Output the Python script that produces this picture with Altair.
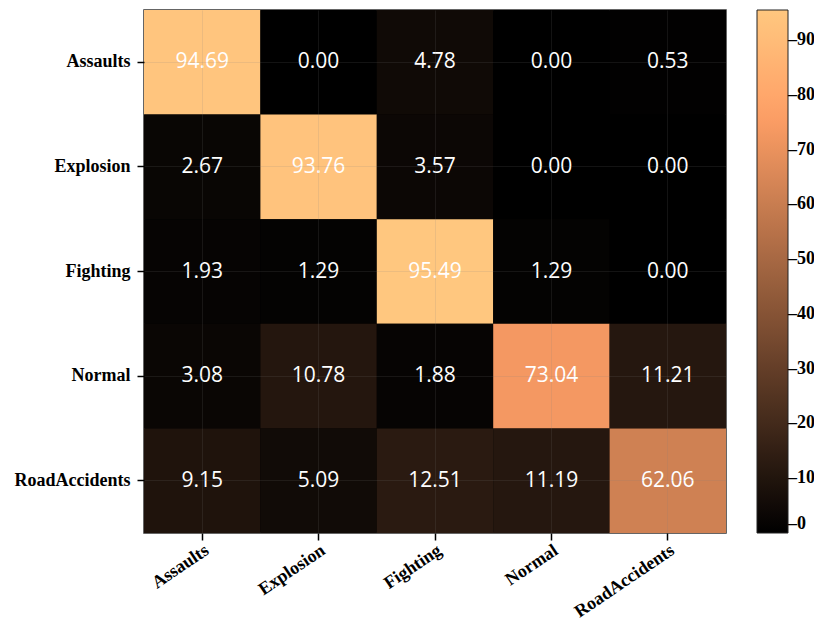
import altair as alt
import pandas as pd

# Class names (rows = true class, columns = predicted class)
classes = ["Assaults", "Explosion", "Fighting", "Normal", "RoadAccidents"]

# Confusion matrix rows, in percent
row_assaults = [94.69, 0.00, 4.78, 0.00, 0.53]
row_explosion = [2.67, 93.76, 3.57, 0.00, 0.00]
row_fighting = [1.93, 1.29, 95.49, 1.29, 0.00]
row_normal = [3.08, 10.78, 1.88, 73.04, 11.21]
row_road = [9.15, 5.09, 12.51, 11.19, 62.06]
rows = [row_assaults, row_explosion, row_fighting, row_normal, row_road]

# Colour bar tick values
bar_ticks = [0, 10, 20, 30, 40, 50, 60, 70, 80, 90]

records = []
for i, actual in enumerate(classes):
    for j, predicted in enumerate(classes):
        v = rows[i][j]
        records.append({"actual": actual, "predicted": predicted,
                        "value": v, "label": f"{v:.2f}"})
df = pd.DataFrame(records)

# matplotlib "copper" colormap: red saturates at 80 % of the range
vmax = max(max(r) for r in rows)
copper = alt.Scale(domain=[0, 0.8 * vmax, vmax],
                   range=["#000000", "#ff9f66", "#ffc77f"],
                   interpolate="rgb")

serif_bold = dict(labelFont="Liberation Serif", labelFontWeight="bold",
                  labelColor="black")

x_axis = alt.Axis(labelAngle=326, labelAlign="right", labelBaseline="top",
                  labelFontSize=18, labelPadding=1, tickSize=7,
                  tickColor="black", tickWidth=1.5, domain=False,
                  grid=True, gridColor="#808080", gridOpacity=0.15,
                  tickBand="center", zindex=1, **serif_bold)
y_axis = alt.Axis(labelFontSize=18, labelPadding=7, tickSize=7,
                  tickColor="black", tickWidth=1.5, domain=False,
                  grid=True, gridColor="#808080", gridOpacity=0.15,
                  tickBand="center", zindex=1, **serif_bold)

base = alt.Chart(df).encode(
    x=alt.X("predicted:N", sort=classes, title=None, axis=x_axis),
    y=alt.Y("actual:N", sort=classes, title=None, axis=y_axis),
)

cells = base.mark_rect().encode(
    color=alt.Color(
        "value:Q", scale=copper,
        legend=alt.Legend(
            title=None, orient="right", direction="vertical", type="gradient",
            offset=31, padding=0, gradientLength=523, gradientThickness=31,
            gradientStrokeColor="#222222", gradientStrokeWidth=1,
            values=bar_ticks, labelOverlap=False, labelOffset=0,
            # a dash in front of each value acts as the colour-bar tick
            labelExpr="'\u2013' + datum.label",
            labelFontSize=18, **serif_bold,
        ),
    ),
)

labels = base.mark_text(color="white", font="Open Sans", fontSize=21).encode(
    text="label:N"
)

chart = (
    (cells + labels)
    .properties(
        width=582, height=523,
        autosize=alt.AutoSizeParams(type="none"),
        padding={"left": 144, "top": 10, "right": 88, "bottom": 93},
        background="white",
    )
    # a black plot background hides the hairline seams between cells
    .configure_view(stroke="#333333", strokeWidth=1.5, fill="#000000")
)

chart.save("out.html", embed_options={"renderer": "svg", "actions": False})
